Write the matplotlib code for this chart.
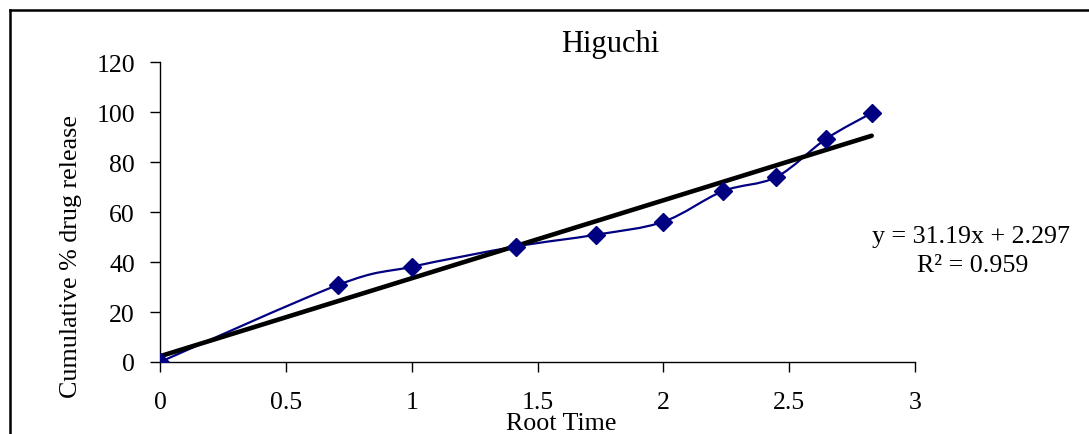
import matplotlib
matplotlib.use("Agg")
import matplotlib.pyplot as plt
from matplotlib.path import Path
from matplotlib.patches import PathPatch
from matplotlib.lines import Line2D
import numpy as np

root_time = [0, 0.707, 1.0, 1.414, 1.732, 2.0, 2.236, 2.449, 2.646, 2.828]
release = [0, 30.8, 38.1, 46.2, 50.9, 56.1, 68.3, 74.0, 89.2, 99.6]
slope = 31.19
intercept = 2.297
r2 = 0.959
x_ticks = [0, 0.5, 1, 1.5, 2, 2.5, 3]
y_ticks = [0, 20, 40, 60, 80, 100, 120]

plt.rcParams['font.family'] = ['Liberation Serif', 'DejaVu Serif']

fig = plt.figure(figsize=(10.89, 4.35), dpi=100)
W, H = 1089, 435
ax = fig.add_axes([160 / W, 1 - 363 / H, (915 - 160) / W, (363 - 63) / H])

# smoothed line (Catmull-Rom style Bezier through the points)
x = np.array(root_time)
y = np.array(release)
pts = np.column_stack([x, y])
verts = [pts[0]]
codes = [Path.MOVETO]
n = len(pts)
for i in range(n - 1):
    p0 = pts[i - 1] if i > 0 else pts[i]
    p1 = pts[i]
    p2 = pts[i + 1]
    p3 = pts[i + 2] if i + 2 < n else pts[i + 1]
    c1 = p1 + (p2 - p0) / 6
    c2 = p2 - (p3 - p1) / 6
    verts += [c1, c2, p2]
    codes += [Path.CURVE4] * 3
ax.add_patch(PathPatch(Path(verts, codes), facecolor='none', edgecolor='#000080', lw=1.6, zorder=3))

# trendline
xt = np.array([0, max(root_time)])
ax.plot(xt, slope * xt + intercept, color='black', lw=3.3, zorder=4, solid_capstyle='round')

ax.plot(root_time, release, linestyle='none', marker='D', markersize=9.5,
        color='#000080', zorder=5)

ax.set_xlim(0, 3)
ax.set_ylim(0, 120)
ax.set_xticks(x_ticks)
ax.set_xticklabels(['0', '0.5', '1', '1.5', '2', '2.5', '3'])
ax.set_yticks(y_ticks)
ax.set_yticklabels([str(v) for v in y_ticks])
for s in ['top', 'right']:
    ax.spines[s].set_visible(False)
for s in ['left', 'bottom']:
    ax.spines[s].set_linewidth(1.0)
ax.tick_params(axis='both', direction='out', length=7, width=1.0, labelsize=18.5, colors='black')
ax.tick_params(axis='x', pad=14)
ax.tick_params(axis='y', pad=11)

fig.text(610 / W, 1 - 52 / H, 'Higuchi', fontsize=22, ha='center', va='baseline')
fig.text(71 / W, 1 - 257 / H, 'Cumulative % drug release', rotation=90, fontsize=18.7,
         ha='center', va='center')
fig.text(561 / W, 1 - 430 / H, 'Root Time', fontsize=18.7, ha='center', va='baseline')
fig.text(971.5 / W, 1 - 243 / H, 'y = 31.19x + 2.297', fontsize=18.7, ha='center', va='baseline')
fig.text(973 / W, 1 - 271.5 / H, 'R² = 0.959', fontsize=18.7, ha='center', va='baseline')

# outer chart frame (partially cropped)
fig.add_artist(Line2D([10 / W, 10 / W], [0, 1 - 11 / H], transform=fig.transFigure, color='black', lw=1.8))
fig.add_artist(Line2D([10 / W, 1], [1 - 11 / H, 1 - 11 / H], transform=fig.transFigure, color='black', lw=1.8))

fig.savefig('out.png', dpi=100)
